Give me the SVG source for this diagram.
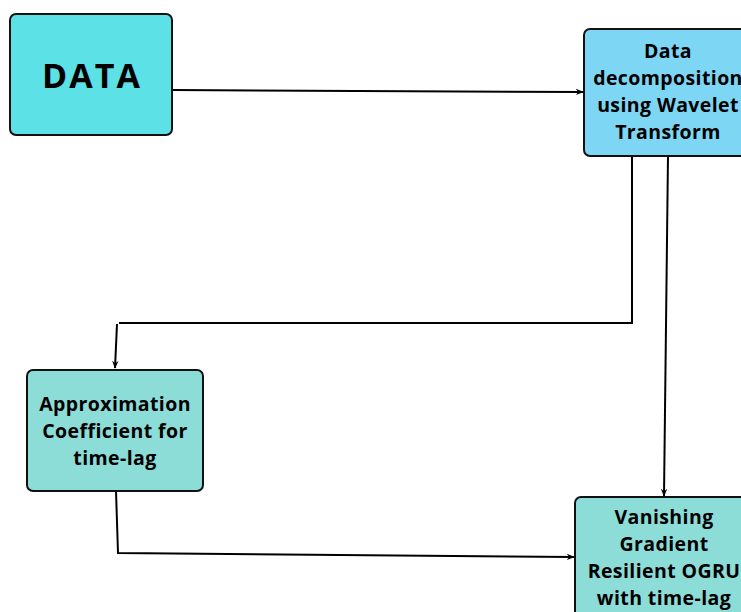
<svg xmlns="http://www.w3.org/2000/svg" width="741" height="612" viewBox="0 0 741 612">
  <defs>
    <marker id="arrow" viewBox="0 0 10 10" refX="9" refY="5" markerWidth="8" markerHeight="8" orient="auto" markerUnits="userSpaceOnUse">
      <path d="M0,1 L10,5 L0,9 L3,5 Z" fill="#000"/>
    </marker>
    <style>
      .box { stroke: #111; stroke-width: 2; }
      .lbl { font-family: "Open Sans", "Liberation Sans", sans-serif; font-weight: 700; fill: #000; text-anchor: middle; }
      .mid { font-size: 19.5px; letter-spacing: 0.4px; }
      .wire { fill: none; stroke: #000; stroke-width: 2; }
    </style>
  </defs>
  <rect width="741" height="612" fill="#fff"/>

  <g id="connectors">
    <line class="wire" x1="172" y1="90" x2="583" y2="92" marker-end="url(#arrow)"/>
    <polyline class="wire" points="632,156 632,323 119,323"/>
    <line class="wire" x1="117" y1="324" x2="115" y2="368" marker-end="url(#arrow)"/>
    <line class="wire" x1="668" y1="156" x2="664" y2="496" marker-end="url(#arrow)"/>
    <polyline class="wire" points="116,491 118,553 574,557" marker-end="url(#arrow)"/>
  </g>

  <g id="data">
    <rect class="box" x="10" y="14" width="162" height="121" rx="6" fill="#5ce1e6"/>
    <text class="lbl" x="92" y="88" font-size="34" letter-spacing="2">DATA</text>
  </g>

  <g id="decomposition">
    <rect class="box" x="584" y="29" width="170" height="127" rx="6" fill="#7ed6f5"/>
    <text class="lbl mid" x="668" y="58">Data</text>
    <text class="lbl mid" x="668" y="85">decomposition</text>
    <text class="lbl mid" x="668" y="112">using Wavelet</text>
    <text class="lbl mid" x="668" y="139">Transform</text>
  </g>

  <g id="approximation">
    <rect class="box" x="27" y="370" width="176" height="121" rx="6" fill="#8cdcd8"/>
    <text class="lbl mid" x="115" y="411">Approximation</text>
    <text class="lbl mid" x="115" y="438">Coefficient for</text>
    <text class="lbl mid" x="115" y="465">time-lag</text>
  </g>

  <g id="ogru">
    <rect class="box" x="575" y="497" width="180" height="130" rx="6" fill="#8cdcd8"/>
    <text class="lbl mid" x="664" y="524">Vanishing</text>
    <text class="lbl mid" x="664" y="551">Gradient</text>
    <text class="lbl mid" x="664" y="578">Resilient OGRU</text>
    <text class="lbl mid" x="664" y="605">with time-lag</text>
  </g>
</svg>
